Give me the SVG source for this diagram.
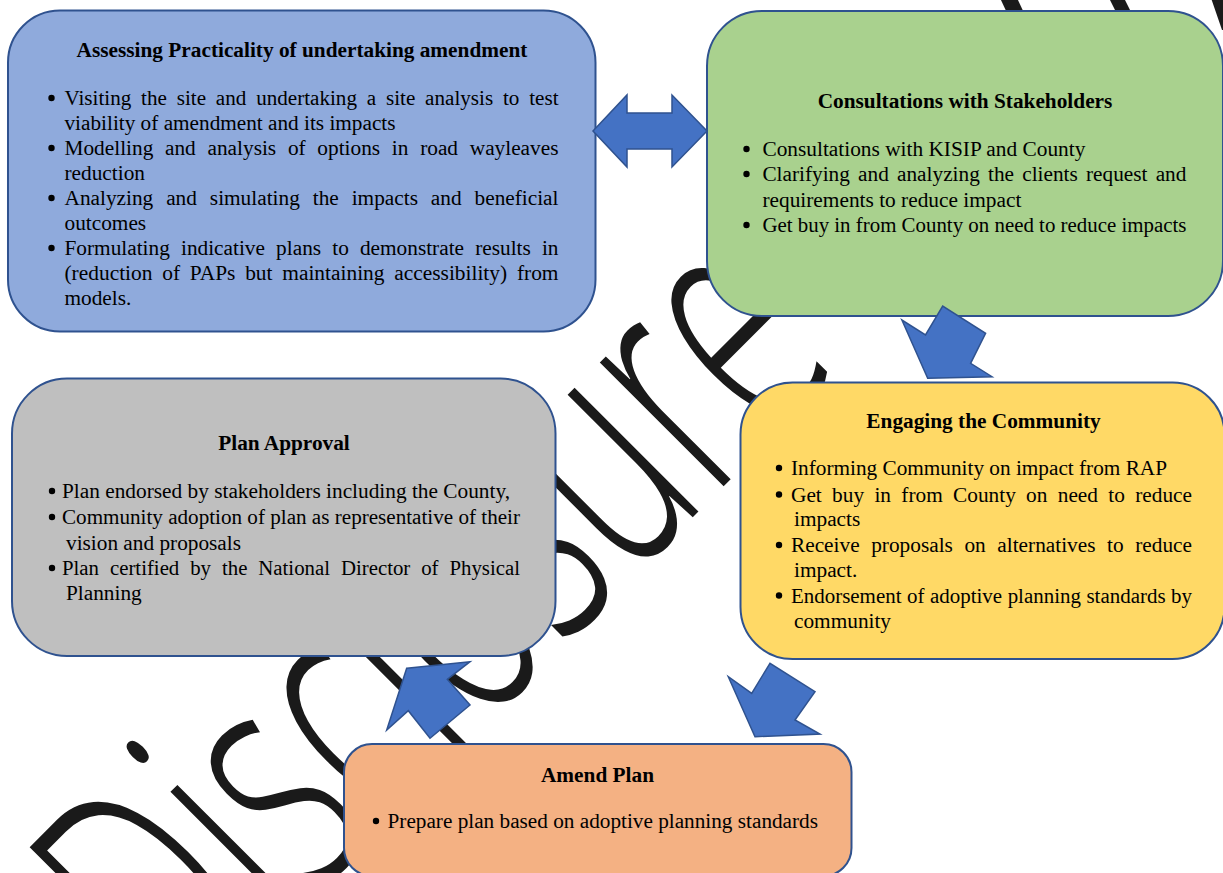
<svg xmlns="http://www.w3.org/2000/svg" width="1223" height="873" viewBox="0 0 1223 873">
<style>
.box{stroke:#2F528F;stroke-width:2}
.t{font-family:"Liberation Serif","Times New Roman",serif;font-size:21.3px;fill:#000}
.h{font-family:"Liberation Serif","Times New Roman",serif;font-size:21.3px;font-weight:bold;fill:#000;text-anchor:middle}
.b{fill:#000}
.arr{fill:#4472C4;stroke:#2F528F;stroke-width:1.5;stroke-linejoin:miter}
.wm{font-family:"Open Sans","DejaVu Sans",sans-serif;font-weight:300;font-size:200px;fill:#1a1a1a}
</style>
<rect width="1223" height="873" fill="#fff"/>
<g id="watermark">
<text class="wm" transform="translate(182,1028) rotate(-45) scale(1,1.65)">Disclosure</text>
<polygon points="1000,-2 1017,-2 1032,30 1015,30" fill="#1a1a1a"/>
<polygon points="1109,-2 1124,-2 1140,30 1125,30" fill="#1a1a1a"/>
<polygon points="1211,-2 1223,-2 1223,30 1222,30" fill="#1a1a1a"/>
</g>
<g id="n1">
<rect class="box" x="8" y="10.5" width="587.5" height="321" rx="52" fill="#8FAADC"/>
<text class="h" x="302" y="57">Assessing Practicality of undertaking amendment</text>
<circle class="b" cx="51.5" cy="98" r="3.2"/><circle class="b" cx="51.5" cy="148" r="3.2"/><circle class="b" cx="51.5" cy="198" r="3.2"/><circle class="b" cx="51.5" cy="248" r="3.2"/>
<text class="t" x="64.5" y="105" word-spacing="4.6" textLength="494" lengthAdjust="spacingAndGlyphs">Visiting the site and undertaking a site analysis to test</text>
<text class="t" x="64.5" y="130" textLength="331" lengthAdjust="spacingAndGlyphs">viability of amendment and its impacts</text>
<text class="t" x="64.5" y="155" word-spacing="6.4" textLength="494" lengthAdjust="spacingAndGlyphs">Modelling and analysis of options in road wayleaves</text>
<text class="t" x="64.5" y="180">reduction</text>
<text class="t" x="64.5" y="205" word-spacing="7.6" textLength="494" lengthAdjust="spacingAndGlyphs">Analyzing and simulating the impacts and beneficial</text>
<text class="t" x="64.5" y="230">outcomes</text>
<text class="t" x="64.5" y="255" word-spacing="5.8" textLength="494" lengthAdjust="spacingAndGlyphs">Formulating indicative plans to demonstrate results in</text>
<text class="t" x="64.5" y="280" word-spacing="4.4" textLength="494" lengthAdjust="spacingAndGlyphs">(reduction of PAPs but maintaining accessibility) from</text>
<text class="t" x="64.5" y="305">models.</text>
</g>
<g id="n2">
<rect class="box" x="707" y="11" width="516" height="305" rx="55" fill="#A9D18E"/>
<text class="h" x="965" y="108">Consultations with Stakeholders</text>
<circle class="b" cx="746.5" cy="149" r="3.2"/><circle class="b" cx="746.5" cy="174" r="3.2"/><circle class="b" cx="746.5" cy="225" r="3.2"/>
<text class="t" x="762.4" y="156" textLength="323" lengthAdjust="spacingAndGlyphs">Consultations with KISIP and County</text>
<text class="t" x="762.4" y="181" word-spacing="2.9" textLength="424" lengthAdjust="spacingAndGlyphs">Clarifying and analyzing the clients request and</text>
<text class="t" x="762.4" y="207" textLength="259" lengthAdjust="spacingAndGlyphs">requirements to reduce impact</text>
<text class="t" x="762.4" y="232" textLength="424" lengthAdjust="spacingAndGlyphs">Get buy in from County on need to reduce impacts</text>
</g>
<g id="n3">
<rect class="box" x="12" y="378.5" width="543.5" height="277.5" rx="55" fill="#BFBFBF"/>
<text class="h" x="284" y="450">Plan Approval</text>
<circle class="b" cx="52" cy="491" r="3.2"/><circle class="b" cx="52" cy="517" r="3.2"/><circle class="b" cx="52" cy="568" r="3.2"/>
<text class="t" x="62" y="498" textLength="448" lengthAdjust="spacingAndGlyphs">Plan endorsed by stakeholders including the County,</text>
<text class="t" x="62" y="524" textLength="458" lengthAdjust="spacingAndGlyphs">Community adoption of plan as representative of their</text>
<text class="t" x="66" y="550" textLength="175" lengthAdjust="spacingAndGlyphs">vision and proposals</text>
<text class="t" x="62" y="575" word-spacing="5.86" textLength="458" lengthAdjust="spacingAndGlyphs">Plan certified by the National Director of Physical</text>
<text class="t" x="66" y="600">Planning</text>
</g>
<g id="n4">
<rect class="box" x="740.5" y="382.5" width="484" height="276.5" rx="52" fill="#FFD966"/>
<text class="h" x="983.5" y="428">Engaging the Community</text>
<circle class="b" cx="779" cy="468" r="3.2"/><circle class="b" cx="779" cy="494.5" r="3.2"/><circle class="b" cx="779" cy="545" r="3.2"/><circle class="b" cx="779" cy="595.5" r="3.2"/>
<text class="t" x="791" y="475" textLength="376" lengthAdjust="spacingAndGlyphs">Informing Community on impact from RAP</text>
<text class="t" x="791" y="501.5" word-spacing="5" textLength="401" lengthAdjust="spacingAndGlyphs">Get buy in from County on need to reduce</text>
<text class="t" x="794" y="525.5">impacts</text>
<text class="t" x="791" y="552" word-spacing="6.26" textLength="401" lengthAdjust="spacingAndGlyphs">Receive proposals on alternatives to reduce</text>
<text class="t" x="794" y="576.5">impact.</text>
<text class="t" x="791" y="602.5" word-spacing="0.3" textLength="401" lengthAdjust="spacingAndGlyphs">Endorsement of adoptive planning standards by</text>
<text class="t" x="794" y="628">community</text>
</g>
<g id="n5">
<rect class="box" x="344" y="744" width="507.5" height="132" rx="28" fill="#F4B183"/>
<text class="h" x="597.5" y="782">Amend Plan</text>
<circle class="b" cx="376" cy="821" r="3.2"/>
<text class="t" x="387.5" y="828" textLength="430.5" lengthAdjust="spacingAndGlyphs">Prepare plan based on adoptive planning standards</text>
</g>
<g id="connectors">
<polygon class="arr" points="593,131 627,95 627,113 672,113 672,95 707,131 672,167 672,149 627,149 627,167"/>
<polygon class="arr" points="927.7,378.3 992,376.7 970.6,363.3 985.6,333.3 942.7,306 925.5,335 901.9,320"/>
<polygon class="arr" points="755,736.7 820,734 795,720 815,691.7 770,663.3 751.7,693.3 728.3,676.7"/>
<polygon class="arr" points="406.7,668.3 470,661.7 447.3,679.3 470,705 430,738.3 408.3,710.7 386.7,730"/>
</g>
</svg>
